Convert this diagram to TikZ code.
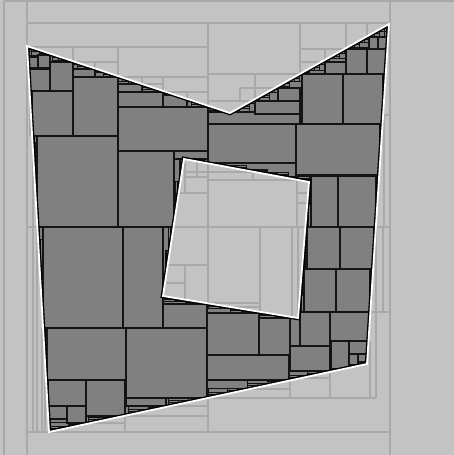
\documentclass[tikz,border=0pt]{standalone}
\definecolor{bgc}{HTML}{C3C3C3}
\definecolor{glc}{HTML}{A9A9A9}
\definecolor{dkc}{HTML}{808080}
\tikzset{
  gridline/.style={draw=glc, line width=1.1pt},
  cellbox/.style={draw=black!92, fill=dkc, line width=1.25pt},
  stair/.style={draw=black!92, line width=1pt},
  rim/.style={draw=white, line width=1.8pt, line join=miter},
}
\newcommand\hst[5]{%
  \foreach \i in {1,...,#5}{%
    \pgfmathsetmacro\xa{#1+(\i-1)*(#3-#1)/#5}%
    \pgfmathsetmacro\xb{#1+\i*(#3-#1)/#5}%
    \pgfmathsetmacro\ya{#2+(\i-1)*(#4-#2)/#5}%
    \pgfmathsetmacro\yb{#2+\i*(#4-#2)/#5}%
    \pgfmathsetmacro\ylo{min(\ya,\yb)-1.5}%
    \pgfmathsetmacro\yhi{max(\ya,\yb)+1.5}%
    \draw[stair] (\xa,\ylo) rectangle (\xb,\yhi);
  }}
\newcommand\vst[5]{%
  \foreach \i in {1,...,#5}{%
    \pgfmathsetmacro\ya{#2+(\i-1)*(#4-#2)/#5}%
    \pgfmathsetmacro\yb{#2+\i*(#4-#2)/#5}%
    \pgfmathsetmacro\xa{#1+(\i-1)*(#3-#1)/#5}%
    \pgfmathsetmacro\xb{#1+\i*(#3-#1)/#5}%
    \pgfmathsetmacro\xlo{min(\xa,\xb)-1.5}%
    \pgfmathsetmacro\xhi{max(\xa,\xb)+1.5}%
    \draw[stair] (\xlo,\ya) rectangle (\xhi,\yb);
  }}
\begin{document}
\begin{tikzpicture}[x=1pt,y=-1pt]
\useasboundingbox (0,0) rectangle (454,455);
\fill[bgc] (0,0) rectangle (454,455);
\coordinate (A) at (27,46);
\coordinate (B) at (230,113);
\coordinate (C) at (389,24);
\coordinate (D) at (367,364);
\coordinate (E) at (49,432);
\coordinate (H1) at (184,159);
\coordinate (H2) at (309,182);
\coordinate (H3) at (298,318);
\coordinate (H4) at (163,296);
% light grid outside
\foreach \pa/\pb/\pc/\pd in {4/1/4/455,4/1/454/1,27/1/27/455,390/1/390/455,
  27/23/390/23,27/432/390/432,208/23/208/432,27/227/390/227,
  27/47/208/47,300/23/300/227,208/74/300/74,73/47/73/92,
  118/47/118/77,73/62/118/62,95/62/95/77,163/77/163/95,
  118/77/208/77,142/77/142/92,163/92/208/92,187/92/187/107,
  118/84/163/84,255/74/255/101,208/101/255/101,240/88/300/88,
  240/88/240/101,346/23/346/49,300/49/390/49,367/23/367/49,
  300/62/346/62,325/49/325/62,384/115/384/227,384/115/390/115,
  376/227/376/398,383/227/383/313,370/312/390/312,370/341/370/398,
  207/398/376/398,290/371/290/398,207/389/290/389,290/378/330/378,
  330/371/330/398,125/416/207/416,166/406/207/406,125/416/125/432,
  67/423/125/423,33/136/33/432,37/227/37/432,42/328/42/432,
  45/380/45/432,30/91/30/136}
  {\draw[gridline] (\pa,\pb) -- (\pc,\pd);}
% dark region
\begin{scope}
\clip (A)--(B)--(C)--(D)--(E)--cycle;
\fill[dkc] (A)--(B)--(C)--(D)--(E)--cycle;
\foreach \n in {8,16,32}{\hst{27}{46}{230}{113}{\n}}
\foreach \n in {8,16,32}{\hst{230}{113}{389}{24}{\n}}
\foreach \n in {8,16,32}{\hst{49}{432}{367}{364}{\n}}
\foreach \n in {6,12,24}{\hst{184}{159}{309}{182}{\n}}
\foreach \n in {6,12,24}{\hst{163}{296}{298}{318}{\n}}
\foreach \n in {8,16}{\vst{27}{46}{49}{432}{\n}}
\foreach \n in {8,16}{\vst{389}{24}{367}{364}{\n}}
\foreach \n in {6,12}{\vst{184}{159}{163}{296}{\n}}
\foreach \n in {6,12}{\vst{309}{182}{298}{318}{\n}}
\foreach \pa/\pb/\pc/\pd in {28/57/38/68,38/55/50/68,29/69/50/91,50/62/73/91,
  73/69/95/77,32/91/73/136,73/77/118/136,118/84/142/92,
  118/92/163/107,163/95/187/107,118/107/208/151,37/136/118/227,
  118/151/174/227,174/151/208/159,208/112/300/124,255/101/300/114,
  278/88/300/101,208/124/296/163,296/124/380/175,302/74/343/124,
  343/74/383/124,325/62/346/74,346/49/367/74,367/49/386/74,
  369/37/378/49,378/37/387/49,311/176/338/227,338/176/376/227,
  307/227/340/269,340/227/374/269,304/269/336/312,336/269/370/312,
  300/312/330/346,330/312/369/341,290/318/300/346,290/346/330/371,
  331/341/349/369,349/341/368/354,349/354/358/365,358/354/368/362,
  207/313/259/355,259/318/290/355,207/355/289/380,43/227/123/328,
  123/227/163/328,163/304/207/328,47/328/126/380,126/328/207/398,
  48/380/86/406,86/380/125/416,49/406/67/419,67/406/86/423,
  126/398/166/406}
  {\draw[cellbox] (\pa,\pb) rectangle (\pc,\pd);}
\draw[black, line width=4.5pt] (A)--(B)--(C)--(D)--(E)--cycle;
\draw[black, line width=4.5pt] (H1)--(H2)--(H3)--(H4)--cycle;
\end{scope}
% hole
\fill[bgc] (H1)--(H2)--(H3)--(H4)--cycle;
\begin{scope}
\clip (H1)--(H2)--(H3)--(H4)--cycle;
\foreach \pa/\pb/\pc/\pd in {150/227/320/227,208/150/208/320,260/227/260/320,
  292/227/292/320,298/227/298/320,297/150/297/227,185/172/297/172,
  208/180/297/180,253/172/253/180,160/193/208/193,197/163/197/177,
  185/177/208/177,185/163/185/193,297/193/320/193,297/203/320/203,
  160/265/208/265,185/265/185/300,160/283/185/283,208/303/260/303,
  235/307/260/307}
  {\draw[gridline] (\pa,\pb) -- (\pc,\pd);}
\end{scope}
\draw[rim] (A)--(B)--(C)--(D)--(E)--cycle;
\draw[rim] (H1)--(H2)--(H3)--(H4)--cycle;
\end{tikzpicture}
\end{document}
